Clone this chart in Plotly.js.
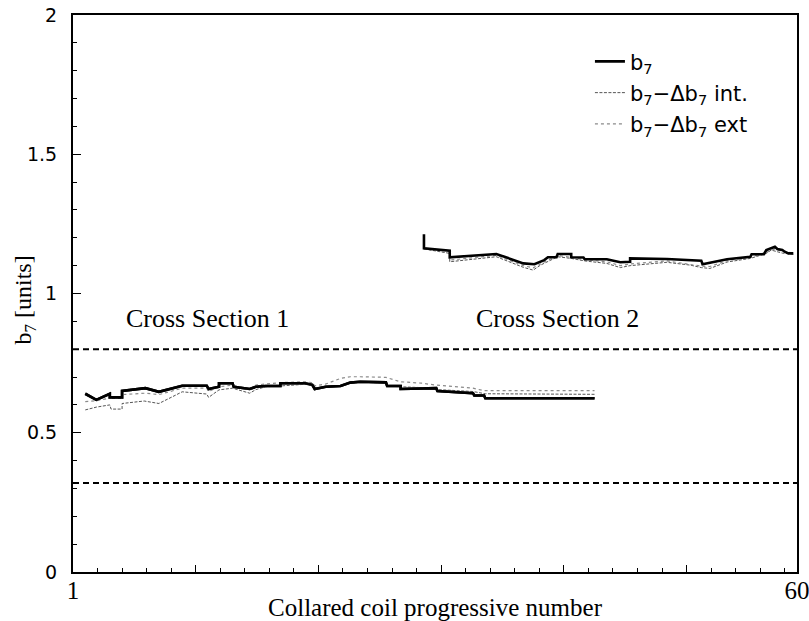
<!DOCTYPE html>
<html>
<head>
<meta charset="utf-8">
<script src="https://cdn.plot.ly/plotly-3.0.1.min.js"></script>
<style>html,body{margin:0;padding:0;background:#fff;}#chart{width:809px;height:621px;}</style>
</head>
<body>
<div id="chart"></div>
<script>
// ---- Data ----
// Cross Section 1
const s1_b7_x = [2.0, 2.9, 4.0, 4.0, 5.0, 5.0, 6.9, 8.0, 9.9, 11.9, 12.05, 12.9, 12.9, 14.0, 14.1, 15.4, 15.9, 16.7, 17.9, 17.9, 19.9, 20.5, 20.7, 21.6, 22.8, 23.6, 24.4, 26.5, 26.6, 27.7, 27.7, 29.4, 30.6, 30.7, 33.6, 33.7, 34.5, 34.6, 43.5];
const s1_b7_y = [0.640, 0.618, 0.640, 0.627, 0.627, 0.650, 0.660, 0.647, 0.669, 0.669, 0.657, 0.665, 0.678, 0.678, 0.665, 0.657, 0.665, 0.668, 0.668, 0.678, 0.678, 0.672, 0.657, 0.665, 0.668, 0.680, 0.683, 0.681, 0.668, 0.668, 0.657, 0.660, 0.660, 0.650, 0.642, 0.634, 0.634, 0.624, 0.624];

const s1_int_x = [2.0, 2.9, 4.0, 4.1, 5.0, 5.0, 6.8, 8.0, 9.9, 11.9, 12.05, 12.9, 14.0, 15.4, 15.9, 16.7, 17.9, 19.9, 20.5, 20.7, 21.6, 22.8, 23.6, 24.4, 26.5, 26.6, 27.7, 29.4, 30.6, 30.7, 33.6, 34.6, 43.5];
const s1_int_y = [0.582, 0.592, 0.600, 0.585, 0.585, 0.605, 0.614, 0.605, 0.647, 0.639, 0.627, 0.654, 0.660, 0.642, 0.655, 0.665, 0.668, 0.674, 0.670, 0.657, 0.663, 0.668, 0.678, 0.681, 0.679, 0.668, 0.665, 0.662, 0.660, 0.655, 0.648, 0.640, 0.638];

const s1_ext_x = [2.0, 2.9, 4.0, 5.0, 5.0, 6.9, 8.0, 9.9, 11.9, 12.05, 12.9, 14.0, 15.4, 15.9, 16.7, 17.9, 19.9, 20.5, 20.7, 21.6, 22.8, 23.6, 24.4, 26.5, 27.7, 29.4, 30.6, 33.6, 34.5, 43.5];
const s1_ext_y = [0.612, 0.615, 0.624, 0.624, 0.637, 0.642, 0.637, 0.660, 0.660, 0.648, 0.665, 0.671, 0.654, 0.671, 0.675, 0.680, 0.683, 0.680, 0.668, 0.675, 0.695, 0.701, 0.701, 0.699, 0.683, 0.678, 0.671, 0.660, 0.651, 0.651];

// Cross Section 2
const s2_b7_x = [29.6, 29.6, 31.7, 31.7, 35.5, 37.7, 38.6, 39.4, 39.7, 40.4, 40.5, 41.6, 41.6, 42.6, 42.7, 44.5, 45.6, 46.4, 46.4, 49.4, 52.2, 52.3, 54.3, 56.2, 56.3, 57.3, 57.5, 58.2, 58.4, 58.8, 59.0, 59.3, 59.7];
const s2_b7_y = [1.213, 1.162, 1.154, 1.130, 1.142, 1.108, 1.105, 1.120, 1.130, 1.130, 1.142, 1.142, 1.130, 1.129, 1.123, 1.123, 1.112, 1.114, 1.126, 1.124, 1.118, 1.105, 1.123, 1.132, 1.141, 1.141, 1.156, 1.168, 1.160, 1.156, 1.150, 1.144, 1.144];

const s2_int_x = [29.6, 31.7, 31.7, 35.5, 37.7, 38.5, 39.1, 39.4, 40.5, 41.6, 42.7, 44.5, 45.6, 46.4, 49.4, 51.3, 52.2, 52.9, 54.3, 56.2, 57.5, 57.9, 58.8, 59.7];
const s2_int_y = [1.160, 1.144, 1.114, 1.132, 1.094, 1.084, 1.102, 1.108, 1.132, 1.126, 1.117, 1.108, 1.093, 1.100, 1.112, 1.102, 1.093, 1.090, 1.113, 1.126, 1.144, 1.156, 1.145, 1.141];

const s2_ext_x = [29.6, 31.7, 31.7, 35.5, 37.7, 38.5, 39.4, 40.5, 41.6, 42.7, 44.5, 45.6, 46.4, 49.4, 52.2, 52.9, 54.3, 56.2, 57.5, 58.2, 58.8, 59.7];
const s2_ext_y = [1.164, 1.150, 1.120, 1.137, 1.100, 1.092, 1.113, 1.136, 1.130, 1.121, 1.114, 1.100, 1.106, 1.117, 1.098, 1.097, 1.118, 1.130, 1.148, 1.160, 1.150, 1.146];

// Tolerance limits (dashed lines)
const limitValues = [0.32, 0.8];
const xRange = [1, 60];

// Labels
const legendNames = ["b<sub>7</sub>", "b<sub>7</sub>\u2212\u0394b<sub>7</sub> int.", "b<sub>7</sub>\u2212\u0394b<sub>7</sub> ext"];
const sectionLabels = ["Cross Section 1", "Cross Section 2"];
const sectionLabelX = [12.0, 40.5];
const sectionLabelY = [0.912, 0.912];
const xTickVals = [1, 11, 21, 31, 41, 51, 60];
const xTickText = ["1", "", "", "", "", "", "60"];
const yTickVals = [0, 0.5, 1, 1.5, 2];
const yTickText = ["0", "0.5", "1", "1.5", "2"];
const yTitle = "b<sub>7</sub> [units]";

// ---- Styles ----
const styleB7 = {color: "#000000", width: 2.6};
const styleInt = {color: "#555555", width: 1, dash: "3px,1.5px"};
const styleExt = {color: "#8a8a8a", width: 1.2, dash: "dot"};

const traces = [];
function addTrace(x, y, name, line, group, show) {
  traces.push({x: x, y: y, type: "scatter", mode: "lines", name: name, line: line,
    legendgroup: group, showlegend: show, hoverinfo: "skip"});
}
addTrace(s1_b7_x, s1_b7_y, legendNames[0], styleB7, "g1", true);
addTrace(s1_int_x, s1_int_y, legendNames[1], styleInt, "g2", true);
addTrace(s1_ext_x, s1_ext_y, legendNames[2], styleExt, "g3", true);
addTrace(s2_int_x, s2_int_y, legendNames[1], styleInt, "g2", false);
addTrace(s2_ext_x, s2_ext_y, legendNames[2], styleExt, "g3", false);
addTrace(s2_b7_x, s2_b7_y, legendNames[0], styleB7, "g1", false);
traces.push(Object.assign({}, traces[0], {showlegend: false}));

limitValues.forEach(v => {
  traces.push({x: xRange, y: [v, v], type: "scatter", mode: "lines", showlegend: false,
    hoverinfo: "skip", line: {color: "#000", width: 2, dash: "6px,4px"}});
});

const serif = "Liberation Serif, Times New Roman, serif";
const sans = "DejaVu Sans, Arial, sans-serif";

const annotations = sectionLabels.map((t, i) => ({x: sectionLabelX[i], y: sectionLabelY[i], xref: "x", yref: "y",
  text: t, showarrow: false, font: {family: serif, size: 26, color: "#000"}}));
annotations.push({x: -0.066, y: 0.488, xref: "paper", yref: "paper", xanchor: "center", yanchor: "middle",
  text: yTitle, textangle: -90, showarrow: false, font: {family: serif, size: 24, color: "#000"}});

const layout = {
  width: 809, height: 621,
  margin: {l: 73, r: 12, t: 15, b: 49, pad: 0},
  paper_bgcolor: "#ffffff", plot_bgcolor: "#ffffff",
  showlegend: true,
  legend: {x: 0.714, xanchor: "left", y: 0.953, yanchor: "top",
    bgcolor: "rgba(0,0,0,0)", borderwidth: 0, font: {family: sans, size: 21, color: "#000"},
    traceorder: "grouped", tracegroupgap: 1, itemwidth: 30},
  xaxis: {range: xRange, showgrid: false, zeroline: false,
    showline: true, linecolor: "#000", linewidth: 2, mirror: true,
    tickmode: "array", tickvals: xTickVals, ticktext: xTickText,
    ticks: "inside", ticklen: 7, tickwidth: 1, tickcolor: "#000",
    minor: {tickmode: "linear", tick0: 1, dtick: 2, ticks: "inside", ticklen: 4, tickwidth: 1, tickcolor: "#000", showgrid: false},
    tickfont: {family: serif, size: 25, color: "#000"}, ticklabeloverflow: "allow", ticklabelstandoff: -5,
    title: {text: "Collared coil progressive number", font: {family: serif, size: 25, color: "#000"}, standoff: 6}},
  yaxis: {range: [0, 2], showgrid: false, zeroline: false,
    showline: true, linecolor: "#000", linewidth: 2, mirror: true,
    tickmode: "array", tickvals: yTickVals, ticktext: yTickText,
    ticks: "inside", ticklen: 8, tickwidth: 1, tickcolor: "#000",
    minor: {tickmode: "linear", tick0: 0, dtick: 0.1, ticks: "inside", ticklen: 4, tickwidth: 1, tickcolor: "#000", showgrid: false},
    tickfont: {family: sans, size: 19, color: "#000"}, ticklabelstandoff: 10},
  annotations: annotations
};

Plotly.newPlot("chart", traces, layout, {staticPlot: true, displayModeBar: false});
</script>
</body>
</html>
